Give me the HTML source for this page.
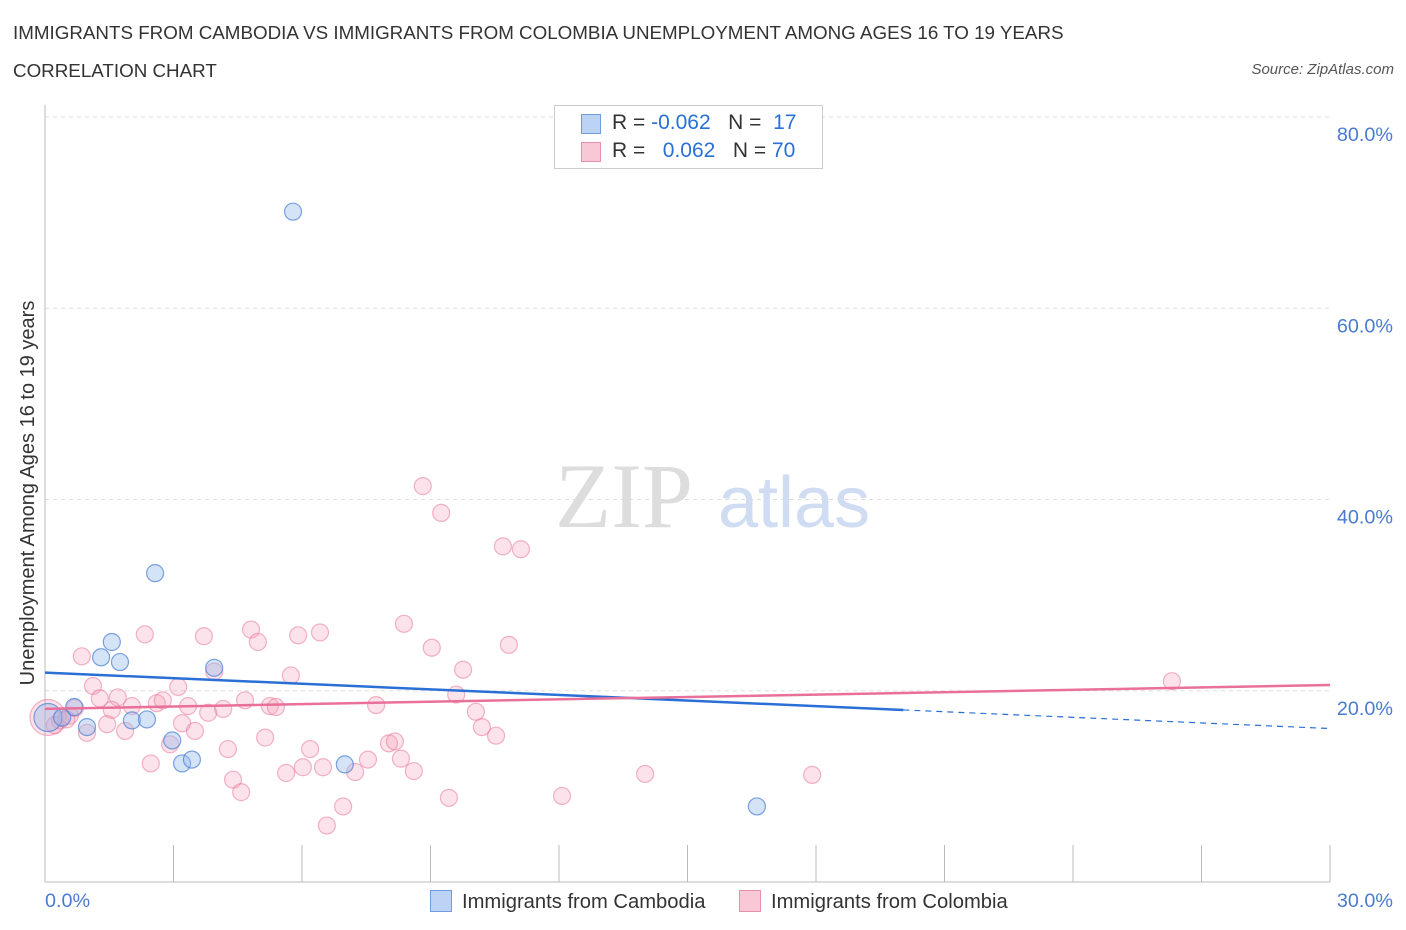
<!DOCTYPE html>
<html><head><meta charset="utf-8"><style>
body{margin:0;background:#fff;font-family:"Liberation Sans",sans-serif;}
#wrap{position:relative;width:1406px;height:930px;overflow:hidden}
.t{position:absolute;white-space:nowrap}
</style></head><body>
<div id="wrap">
<div class="t" style="left:13px;top:22px;font-size:18.8px;color:#333">IMMIGRANTS FROM CAMBODIA VS IMMIGRANTS FROM COLOMBIA UNEMPLOYMENT AMONG AGES 16 TO 19 YEARS</div>
<div class="t" style="left:13px;top:60px;font-size:18.8px;color:#333">CORRELATION CHART</div>
<div class="t" style="right:12px;top:61px;font-size:15px;color:#555;font-style:italic">Source: ZipAtlas.com</div>
<svg id="svg" width="1406" height="930" style="position:absolute;left:0;top:0"></svg>
</div>
<script>
const blueX=[5.79,2.57,1.56,1.75,1.31,3.95,0.68,0.98,2.03,2.38,2.97,3.20,3.43,7.00,16.62,0.07,0.40];
const blueY=[70.1,32.3,25.1,23.0,23.5,22.4,18.3,16.2,16.9,17.0,14.8,12.4,12.8,12.3,7.9,17.2,17.2];
const pinkX=[0.86,1.12,1.28,1.70,1.56,1.45,1.87,2.03,2.33,2.47,2.61,2.75,2.92,3.11,3.20,3.34,3.50,3.71,3.81,3.95,4.16,4.27,4.39,4.58,4.67,4.81,4.97,5.14,5.25,5.39,5.63,5.74,5.91,6.02,6.19,6.42,6.49,6.58,6.96,7.24,7.54,7.73,8.03,8.17,8.31,8.38,8.61,8.82,9.03,9.25,9.43,9.60,9.76,10.06,10.20,10.53,10.69,10.83,11.11,12.07,14.01,17.91,26.31,0.07,0.35,0.58,0.98,0.70,0.23,0.5];
const pinkY=[23.6,20.5,19.2,19.3,18.0,16.5,15.8,18.4,25.9,12.4,18.7,19.0,14.4,20.4,16.6,18.4,15.8,25.7,17.7,22.0,18.1,13.9,10.7,9.4,19.0,26.4,25.1,15.1,18.4,18.3,11.4,21.6,25.8,12.0,13.9,26.1,12.0,5.9,7.9,11.5,12.8,18.5,14.5,14.7,12.9,27.0,11.6,41.4,24.5,38.6,8.8,19.6,22.2,17.8,16.2,15.3,35.1,24.8,34.8,9.0,11.3,11.2,21.0,17.2,16.9,17.4,15.6,18.2,16.4,17.0];
const yTicks=[20,40,60,80];
const yTickLabels=["20.0%","40.0%","60.0%","80.0%"];
const xTickLabels=["0.0%","30.0%"];
const blueTrend=[21.9,-0.195];
const pinkTrend=[18.1,0.0833];
const blueSolidEnd=20.04;

const X=v=>45+v*1285/30, Y=v=>882-v*9.5625;
const svg=document.getElementById('svg');const NS='http://www.w3.org/2000/svg';
function mk(t,a){const e=document.createElementNS(NS,t);for(const k in a)e.setAttribute(k,a[k]);svg.appendChild(e);return e;}
yTicks.forEach((v,i)=>{
 const g=mk('line',{x1:45,x2:1330,y1:Y(v),y2:Y(v),stroke:'#ddd','stroke-dasharray':'4,4'});
 
 
 const t=mk('text',{x:1393,y:Y(v)+24,'text-anchor':'end','font-size':19.8,fill:'#4a7bd0','font-family':'Liberation Sans'});
 t.textContent=yTickLabels[i];
 
 
});
const ax=mk('line',{x1:45,x2:45,y1:105,y2:882,stroke:'#bbb'});


const bx=mk('line',{x1:45,x2:1330,y1:882,y2:882,stroke:'#bbb'});


for(let i=0;i<=10;i++){const x=45+i*128.5;const tk=mk('line',{x1:x,x2:x,y1:845,y2:882,stroke:'#bbb'});
 
 }
[[45,'start',0],[1393,'end',1]].forEach(([x,a,i])=>{const t=mk('text',{x:x,y:907,'text-anchor':a,'font-size':19.8,fill:'#4a7bd0','font-family':'Liberation Sans'});t.textContent=xTickLabels[i];
 
 });
const wm=mk('text',{x:555,y:527,'font-size':92,fill:'#ddd','font-family':'Liberation Serif'});wm.textContent='ZIP';


const wm2=mk('text',{x:718,y:527,'font-size':72,fill:'#cfdcf2','font-family':'Liberation Sans'});wm2.textContent='atlas';


const yt=mk('text',{x:0,y:0,transform:'translate(34,493) rotate(-90)','text-anchor':'middle','font-size':20,fill:'#333','font-family':'Liberation Sans'});yt.textContent='Unemployment Among Ages 16 to 19 years';


pinkX.forEach((x,i)=>{const c=mk('circle',{cx:X(x),cy:Y(pinkY[i]),r:(i==63?18:8.5),fill:'rgba(244,160,186,0.3)',stroke:'rgba(232,120,155,0.55)','stroke-width':1.2});
 
 });
blueX.forEach((x,i)=>{const c=mk('circle',{cx:X(x),cy:Y(blueY[i]),r:(i==15?14:8.5),fill:'rgba(150,185,235,0.4)',stroke:'rgba(70,125,210,0.7)','stroke-width':1.2});
 
 });
const bt=x=>blueTrend[0]+blueTrend[1]*x, pt=x=>pinkTrend[0]+pinkTrend[1]*x;
const l1=mk('line',{x1:X(0),y1:Y(bt(0)),x2:X(blueSolidEnd),y2:Y(bt(blueSolidEnd)),stroke:'#2a6fd6','stroke-width':2.5});


const l2=mk('line',{x1:X(blueSolidEnd),y1:Y(bt(blueSolidEnd)),x2:X(30),y2:Y(bt(30)),stroke:'#2a6fd6','stroke-width':1.2,'stroke-dasharray':'6,5'});


const l3=mk('line',{x1:X(0),y1:Y(pt(0)),x2:X(30),y2:Y(pt(30)),stroke:'#e8709a','stroke-width':2.5});


</script>
<div class="t" style="left:554px;top:105px;width:267px;height:62px;border:1px solid #ccc;background:#fff;font-size:21px;color:#333">
 <div style="position:absolute;left:26px;top:8px;width:18px;height:18px;background:#bcd3f5;border:1px solid #6f9ee0"></div>
 <div style="position:absolute;left:57px;top:5px">R = <span style="color:#2a6fd6">-0.062</span>&nbsp;&nbsp;&nbsp;N = &nbsp;<span style="color:#2a6fd6">17</span></div>
 <div style="position:absolute;left:26px;top:36px;width:18px;height:18px;background:#f9c8d6;border:1px solid #e890ab"></div>
 <div style="position:absolute;left:57px;top:33px">R = &nbsp;&nbsp;<span style="color:#2a6fd6">0.062</span>&nbsp;&nbsp;&nbsp;N = <span style="color:#2a6fd6">70</span></div>
</div>
<div class="t" style="left:430px;top:890px;font-size:20.2px;color:#333"><span style="display:inline-block;width:20px;height:20px;background:#bcd3f5;border:1px solid #6f9ee0;vertical-align:-4px;margin-right:10px"></span>Immigrants from Cambodia</div>
<div class="t" style="left:739px;top:890px;font-size:20.2px;color:#333"><span style="display:inline-block;width:20px;height:20px;background:#f9c8d6;border:1px solid #e890ab;vertical-align:-4px;margin-right:10px"></span>Immigrants from Colombia</div>
</body></html>
